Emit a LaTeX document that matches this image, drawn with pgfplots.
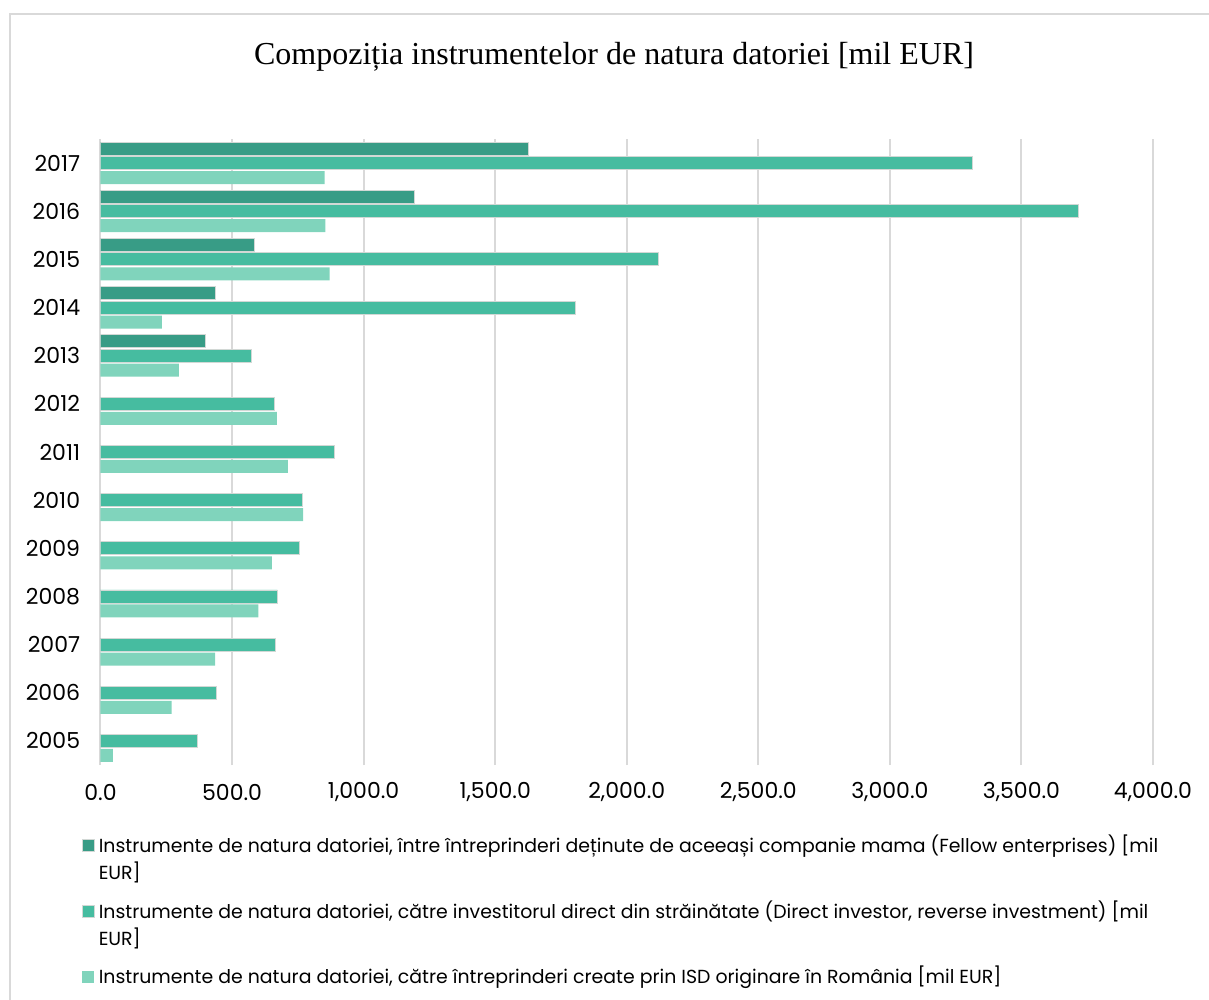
\documentclass[border=0pt]{standalone}
\usepackage{pgfplots}
\pgfplotsset{compat=1.18}
\usepackage{fontspec}
\setmainfont{Poppins}
\newfontfamily\titlefont{Liberation Serif}
\definecolor{cdark}{HTML}{389C86}
\definecolor{cmed}{HTML}{46BCA0}
\definecolor{clight}{HTML}{80D4BC}
\definecolor{cgrid}{HTML}{D9D9D9}
\definecolor{cedge}{HTML}{D2D8D5}
\newcommand{\twoline}[2]{\vtop{\hbox{#1}\hbox{#2}}}
\begin{document}
\begin{tikzpicture}
\useasboundingbox (0,0) rectangle (604.5bp,500bp);
\draw[cgrid, line width=1bp] (5bp,-2bp) -- (5bp,493bp) -- (607bp,493bp);
\node[font=\titlefont\fontsize{16bp}{19bp}\selectfont] at (307bp,471.5bp) {Compoziția instrumentelor de natura datoriei [mil EUR]};
\begin{axis}[
  at={(50.25bp,117.5bp)}, anchor=south west, scale only axis,
  width=526.25bp, height=313bp,
  xbar, bar width=6.5bp,
  xmin=0, xmax=4000, ymin=2004.5, ymax=2017.5,
  xtick={0,500,...,4000},
  ytick={2005,2006,...,2017},
  yticklabels={2005,2006,2007,2008,2009,2010,2011,2012,2013,2014,2015,2016,2017},
  /pgf/number format/assume math mode=true,
  x tick label style={/pgf/number format/fixed, /pgf/number format/fixed zerofill, /pgf/number format/precision=1, /pgf/number format/1000 sep={,}},
  xmajorgrids, grid style={cgrid, line width=1bp},
  axis line style={draw=none},
  major tick length=0pt,
  tick label style={font=\fontsize{11bp}{13bp}\selectfont},
  xticklabel style={anchor=center, yshift=-13.5bp},
  yticklabel style={anchor=east, inner sep=0pt, xshift=-10bp},
  legend cell align=left,
  legend style={at={(axis description cs:-0.0176,-0.1054)}, anchor=north west, draw=none, fill=none, inner sep=0pt, outer sep=0pt, row sep=18.5bp, column sep=0bp, font=\fontsize{9.45bp}{13.5bp}\selectfont, cells={anchor=base west, inner sep=0pt}},
  legend image code/.code={\fill[#1] (0bp,0.5bp) rectangle (6bp,6.5bp); \path (6bp,0.5bp);},
]
\addplot[fill=cdark, draw=cedge, line width=0.4bp, bar shift=7.25bp] coordinates {(400,2013) (438,2014) (586,2015) (1193,2016) (1626,2017)};
\addlegendentry{\twoline{Instrumente de natura datoriei, între întreprinderi deținute de aceeași companie mama (Fellow enterprises) [mil}{EUR]}}
\addplot[fill=cmed, draw=cedge, line width=0.4bp, bar shift=0bp] coordinates {(370,2005) (440,2006) (664,2007) (672,2008) (757,2009) (766,2010) (890,2011) (662,2012) (572,2013) (1806,2014) (2120,2015) (3718,2016) (3314,2017)};
\addlegendentry{\twoline{Instrumente de natura datoriei, către investitorul direct din străinătate (Direct investor, reverse investment) [mil}{EUR]}}
\addplot[fill=clight, draw=none, bar shift=-7.25bp] coordinates {(47,2005) (270,2006) (436,2007) (600,2008) (651,2009) (770,2010) (712,2011) (670,2012) (298,2013) (233,2014) (871,2015) (855,2016) (852,2017)};
\addlegendentry{Instrumente de natura datoriei, către întreprinderi create prin ISD originare în România [mil EUR]}
\end{axis}
\end{tikzpicture}
\end{document}
